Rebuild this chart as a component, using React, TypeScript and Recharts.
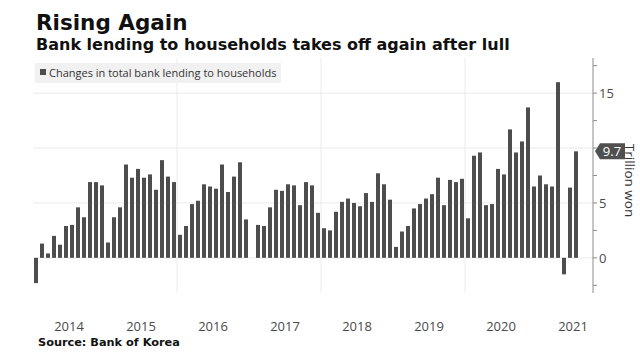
import { BarChart, Bar, XAxis, YAxis, CartesianGrid, ReferenceLine, Legend } from 'recharts';

// Monthly change in bank lending to households, trillion won (Bank of Korea)
const years = [2014, 2015, 2016, 2017, 2018, 2019, 2020, 2021];
const lending2014 = [-2.3, 1.3, 0.4, 2.0, 1.2, 2.9, 3.0, 4.6, 3.7, 6.9, 6.9, 6.6];
const lending2015 = [1.4, 3.7, 4.6, 8.5, 7.3, 8.1, 7.3, 7.6, 6.2, 8.9, 7.4, 6.9];
const lending2016 = [2.1, 2.9, 4.9, 5.2, 6.7, 6.5, 6.3, 8.5, 6.0, 7.4, 8.7, 3.5];
const lending2017 = [0.0, 3.0, 2.9, 4.6, 6.2, 6.1, 6.7, 6.6, 4.8, 6.9, 6.6, 4.1];
const lending2018 = [2.7, 2.5, 4.2, 5.1, 5.4, 5.0, 4.7, 5.9, 5.1, 7.7, 6.7, 5.3];
const lending2019 = [1.0, 2.4, 2.9, 4.5, 4.9, 5.4, 5.8, 7.3, 4.8, 7.1, 6.9, 7.2];
const lending2020 = [3.6, 9.3, 9.6, 4.8, 4.9, 8.1, 7.6, 11.7, 9.6, 10.6, 13.7, 6.5];
const lending2021 = [7.5, 6.7, 6.5, 16.0, -1.5, 6.4, 9.7];

const byYear = [lending2014, lending2015, lending2016, lending2017, lending2018, lending2019, lending2020, lending2021];

const yTicks = [-2.5, 0, 2.5, 5, 7.5, 10, 12.5, 15, 17.5];
const gridValues = [0, 5, 10, 15];
const yearGridLines = ['2016-01', '2018-01', '2020-01'];
const xTicks = years.map((y) => `${y}-07`);

const pad = (n: number) => (n < 10 ? `0${n}` : `${n}`);
const data = byYear.flatMap((vals, i) =>
  vals.map((value, m) => ({ month: `${years[i]}-${pad(m + 1)}`, value }))
);
const latest = data[data.length - 1].value;

const labelFont = '"Open Sans", sans-serif';
const titleFont = '"DejaVu Sans", sans-serif';

const YearTick = (props: any) => {
  const { x, y, payload } = props;
  return (
    <text x={x - 3} y={y} dy={30} textAnchor="middle" fill="#4a4a4a" fontSize={13} fontFamily={labelFont}>
      {payload.value.slice(0, 4)}
    </text>
  );
};

const ValueTick = (props: any) => {
  const { x, y, payload } = props;
  const v = payload.value;
  // only label the multiples of 5, and leave room for the latest-value callout
  if (v < 0 || v % 5 !== 0 || Math.abs(v - latest) < 1.5) return null;
  return (
    <text x={x} y={y} dy={5} textAnchor="start" fill="#4a4a4a" fontSize={13} fontFamily={labelFont}>
      {v}
    </text>
  );
};

const Callout = (props: any) => {
  const { viewBox } = props;
  const x = viewBox.x + viewBox.width + 2;
  const y = viewBox.y;
  return (
    <g>
      <polygon
        points={`${x},${y} ${x + 5},${y - 8} ${x + 30},${y - 8} ${x + 30},${y + 8} ${x + 5},${y + 8}`}
        fill="#505050"
      />
      <text x={x + 17} y={y} dy={4.5} textAnchor="middle" fill="#ffffff" fontSize={13} fontFamily={labelFont}>
        {latest}
      </text>
    </g>
  );
};

const AxisTitle = (props: any) => {
  const { viewBox } = props;
  const cx = viewBox.x + viewBox.width - 11;
  const cy = viewBox.y + viewBox.height / 2 + 5;
  return (
    <text
      x={cx}
      y={cy}
      transform={`rotate(90 ${cx} ${cy})`}
      textAnchor="middle"
      dy={4}
      fill="#333333"
      fontSize={13.5}
      fontFamily={labelFont}
    >
      Trillion won
    </text>
  );
};

const LegendBox = () => (
  <div
    style={{
      background: '#f1f1f1',
      padding: '2px 5px 3px 5px',
      fontFamily: labelFont,
      fontSize: 11,
      color: '#333',
      display: 'inline-flex',
      alignItems: 'center',
      whiteSpace: 'nowrap',
    }}
  >
    <span style={{ display: 'inline-block', width: 6, height: 6, background: '#4d4d4d', marginRight: 3 }} />
    Changes in total bank lending to households
  </div>
);

export default function App() {
  return (
    <div style={{ position: 'absolute', left: 0, top: 0, width: 640, height: 361, background: '#fff' }}>
      <div
        style={{
          position: 'absolute',
          left: 36,
          top: 9.5,
          fontFamily: titleFont,
          fontWeight: 'bold',
          fontSize: 21.5,
          color: '#111',
          lineHeight: '26px',
        }}
      >
        Rising Again
      </div>
      <div
        style={{
          position: 'absolute',
          left: 36,
          top: 33.5,
          fontFamily: titleFont,
          fontWeight: 'bold',
          fontSize: 16,
          color: '#111',
          lineHeight: '22px',
          whiteSpace: 'nowrap',
        }}
      >
        Bank lending to households takes off again after lull
      </div>

      <BarChart width={640} height={361} data={data} margin={{ top: 58, right: 0, left: 33, bottom: 0 }}>
        <CartesianGrid vertical={false} horizontalValues={gridValues} stroke="#ebebeb" />
        {yearGridLines.map((m) => (
          <ReferenceLine key={m} x={m} position="start" stroke="#ebebeb" />
        ))}
        <XAxis
          dataKey="month"
          ticks={xTicks}
          interval={0}
          tick={<YearTick />}
          tickLine={false}
          axisLine={false}
          height={68}
          padding={{ left: 0, right: 14 }}
        />
        <YAxis
          orientation="right"
          width={47}
          domain={[-3.2, 18.2]}
          ticks={yTicks}
          allowDataOverflow
          interval={0}
          tick={<ValueTick />}
          tickSize={4}
          tickLine={{ stroke: '#8c8c8c' }}
          axisLine={{ stroke: '#8c8c8c' }}
          label={<AxisTitle />}
        />
        <Legend
          layout="horizontal"
          verticalAlign="middle"
          align="center"
          wrapperStyle={{ top: 61, left: 35, width: 'auto' }}
          content={() => <LegendBox />}
        />
        <ReferenceLine y={latest} stroke="none" ifOverflow="visible" label={<Callout />} />
        <Bar dataKey="value" fill="#4d4d4d" barSize={4} isAnimationActive={false} />
      </BarChart>

      <div
        style={{
          position: 'absolute',
          left: 38,
          top: 336,
          fontFamily: titleFont,
          fontWeight: 'bold',
          fontSize: 11.3,
          color: '#111',
        }}
      >
        Source: Bank of Korea
      </div>
    </div>
  );
}
